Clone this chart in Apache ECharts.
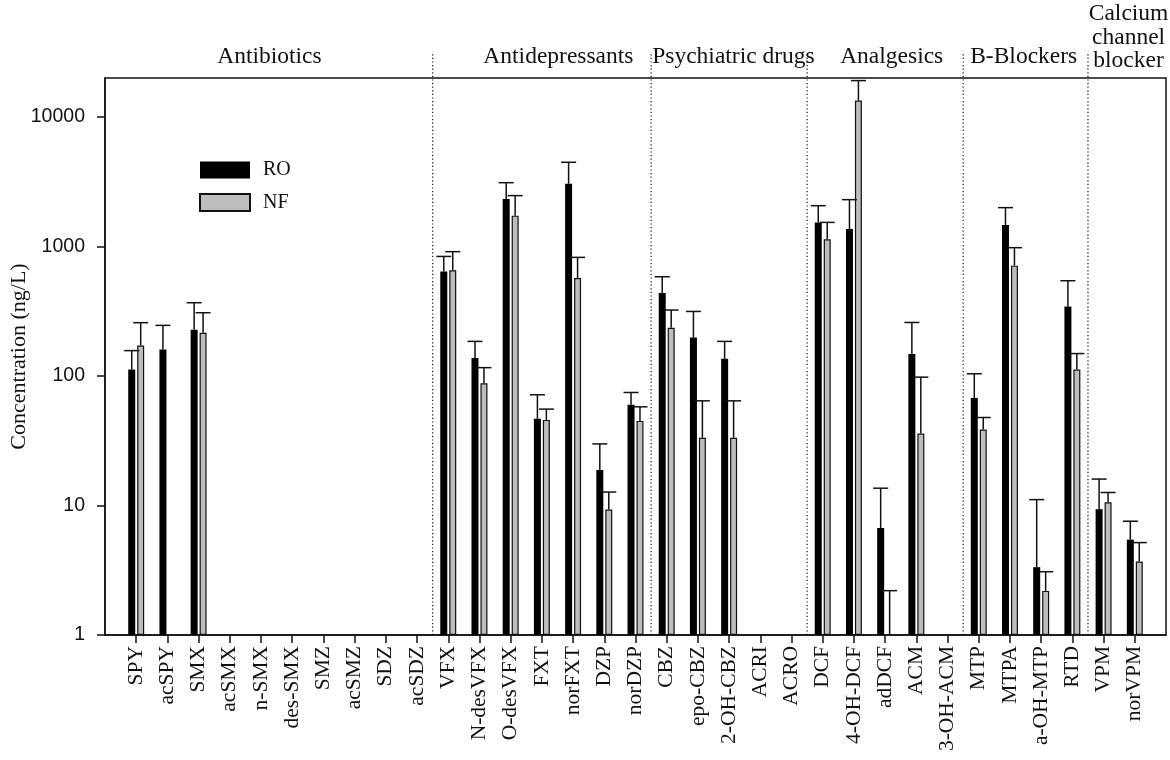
<!DOCTYPE html>
<html>
<head>
<meta charset="utf-8">
<script src="https://cdn.jsdelivr.net/npm/echarts@6/dist/echarts.min.js"></script>
<style>
  html, body { margin: 0; padding: 0; background: #fff; }
  #chart { width: 1170px; height: 760px; }
</style>
</head>
<body>
<div id="chart"></div>
<script>
// Compounds, in plotting order
const categories = ['SPY','acSPY','SMX','acSMX','n-SMX','des-SMX','SMZ','acSMZ','SDZ','acSDZ',
  'VFX','N-desVFX','O-desVFX','FXT','norFXT','DZP','norDZP',
  'CBZ','epo-CBZ','2-OH-CBZ','ACRI','ACRO',
  'DCF','4-OH-DCF','adDCF','ACM','3-OH-ACM',
  'MTP','MTPA','a-OH-MTP','RTD',
  'VPM','norVPM'];

// Mean concentrations (ng/L) and upper error limits
const roMean  = [112,160,228,null,null,null,null,null,null,null,
  642,138,2330,46.7,3050,18.8,60,
  437,198,136,null,null,
  1535,1365,6.7,148,null,
  67.5,1467,3.34,344,
  9.36,5.45];
const roUpper = [157,246,368,null,null,null,null,null,null,null,
  838,185,3110,71.6,4470,29.9,74.6,
  584,315,185,null,null,
  2066,2300,13.6,259,null,
  104,1995,11.1,544,
  16,7.56];
const nfMean  = [172,null,216,null,null,null,null,null,null,null,
  654,88,1730,45.8,571,9.3,45,
  236,33.3,33.3,null,null,
  1135,13390,null,36,null,
  38.6,711,2.19,112,
  10.6,3.69];
const nfUpper = [258,null,308,null,null,null,null,null,null,null,
  912,116,2471,55.5,824,12.7,57.8,
  323,64.3,64.3,null,null,
  1535,19100,2.2,98,null,
  47.8,979,3.08,149,
  12.6,5.17];

// Drug classes: name and index range of their compounds
const groupNames = ['Antibiotics','Antidepressants','Psychiatric drugs','Analgesics','B-Blockers','Calcium\nchannel\nblocker'];
const groupFirst = [0, 10, 17, 22, 27, 31];
const groupLast  = [9, 16, 21, 26, 30, 32];

// Axis tick labels
const yTicks = [1, 10, 100, 1000, 10000];

// ---- layout ----
const Y_MIN = 1, Y_MAX = 20000;
const BAR_W = 7, BAR_GAP = 0.28;
const SERIF = '"Liberation Serif", "Times New Roman", serif';
const SANS = '"Liberation Sans", Arial, sans-serif';
// horizontal anchor of each class title, in category units
const groupLabelAt = [4.27, 13.53, 19.14, 24.21, 28.44, 31.8];

// category axis padded by one empty slot on each side
const axisCats = [' '].concat(categories, ['  ']);
const pad = arr => [null].concat(arr, [null]);

function errData(mean, upper) {
  const out = [];
  upper.forEach((u, i) => { if (u != null) out.push([i + 1, mean[i] == null ? NaN : mean[i], u]); });
  return out;
}

function errRenderer(side) {
  return function (params, api) {
    const i = api.value(0);
    const base = api.value(1);
    const hi = api.value(2);
    const off = side * BAR_W * (1 + BAR_GAP) / 2;
    const top = api.coord([i, hi]);
    const bottom = api.coord([i, isNaN(base) ? Y_MIN : base]);
    const x = top[0] + off;
    const cap = 7.5;
    const style = { stroke: '#111', lineWidth: 1.5, fill: null };
    return {
      type: 'group',
      children: [
        { type: 'line', shape: { x1: x, y1: bottom[1], x2: x, y2: top[1] }, style },
        { type: 'line', shape: { x1: x - cap, y1: top[1], x2: x + cap, y2: top[1] }, style }
      ]
    };
  };
}

const sepData = groupLast.slice(0, groupLast.length - 1).map(l => [l + 1, Y_MIN]);
const titleData = groupNames.map((n, k) => [groupLabelAt[k], Y_MAX, k]);

const chart = echarts.init(document.getElementById('chart'), null, { renderer: 'canvas' });
chart.setOption({
  animation: false,
  backgroundColor: '#fff',
  grid: {
    left: 105, right: 4, top: 78, bottom: 125,
    outerBoundsMode: 'none',
    containLabel: false,
    show: true, borderColor: '#111', borderWidth: 1.5, backgroundColor: 'transparent'
  },
  legend: {
    data: ['RO', 'NF'],
    orient: 'vertical',
    left: 199, top: 160, padding: 0,
    itemWidth: 50, itemHeight: 17, itemGap: 12.5,
    icon: 'rect',
    textStyle: { fontFamily: SERIF, fontSize: 20, color: '#111', padding: [0, 0, 0, 8] },
    selectedMode: false
  },
  xAxis: {
    type: 'category',
    data: axisCats,
    boundaryGap: false,
    axisLine: { show: true, lineStyle: { color: '#111', width: 1.5 } },
    axisTick: {
      show: true, length: 8, lineStyle: { color: '#111', width: 1.5 },
      interval: idx => idx > 0 && idx < axisCats.length - 1
    },
    axisLabel: {
      interval: 0, rotate: 90, margin: 11,
      fontFamily: SERIF, fontSize: 21.5, color: '#111'
    },
    splitLine: { show: false }
  },
  yAxis: {
    type: 'log',
    logBase: 10,
    min: Y_MIN, max: Y_MAX,
    name: 'Concentration (ng/L)',
    nameLocation: 'middle',
    nameGap: 75,
    nameMoveOverlap: false,
    nameTextStyle: { fontFamily: SERIF, fontSize: 22, color: '#111' },
    axisLine: { show: true, lineStyle: { color: '#111', width: 1.5 } },
    axisTick: { show: true, length: 8, lineStyle: { color: '#111', width: 1.5 }, customValues: yTicks },
    axisLabel: {
      customValues: yTicks,
      margin: 20, fontFamily: SANS, fontSize: 19.5, color: '#111',
      formatter: v => String(Math.round(v))
    },
    splitLine: { show: false }
  },
  series: [
    {
      name: 'RO', type: 'bar', data: pad(roMean),
      barWidth: BAR_W, barGap: (BAR_GAP * 100) + '%',
      itemStyle: { color: '#000', borderColor: '#000', borderWidth: 0 },
      silent: true
    },
    {
      name: 'NF', type: 'bar', data: pad(nfMean),
      barWidth: BAR_W,
      itemStyle: { color: '#bdbdbd', borderColor: '#111', borderWidth: 1.2 },
      silent: true
    },
    {
      name: 'RO range', type: 'custom', data: errData(roMean, roUpper),
      renderItem: errRenderer(-1), encode: { x: 0, y: [1, 2] }, z: 3, silent: true
    },
    {
      name: 'NF range', type: 'custom', data: errData(nfMean, nfUpper),
      renderItem: errRenderer(1), encode: { x: 0, y: [1, 2] }, z: 3, silent: true
    },
    {
      // dotted separators between drug classes, running up into the title band
      name: 'separators', type: 'custom', data: sepData, clip: false, silent: true, z: 1,
      renderItem: (params, api) => {
        const a = api.coord([api.value(0), Y_MIN]);
        const b = api.coord([api.value(0) + 1, Y_MIN]);
        const x = (a[0] + b[0]) / 2;
        const top = api.coord([api.value(0), Y_MAX])[1] - 26;
        return {
          type: 'line',
          shape: { x1: x, y1: a[1], x2: x, y2: top },
          style: { stroke: '#111', lineWidth: 1.2, lineDash: [1.2, 2.4] }
        };
      }
    },
    {
      // drug class titles above the plot frame
      name: 'class titles', type: 'custom', data: titleData, clip: false, silent: true,
      renderItem: (params, api) => {
        const x0 = api.coord([1, Y_MAX]);
        const band = api.size([1, 0])[0];
        const x = x0[0] + api.value(0) * band;
        const text = groupNames[api.value(2)];
        const multi = text.indexOf('\n') >= 0;
        return {
          type: 'text',
          style: {
            text: text,
            x: x, y: x0[1] - (multi ? 5 : 9),
            align: 'center', verticalAlign: 'bottom',
            font: '23.5px ' + SERIF, lineHeight: 23.5, fill: '#111'
          }
        };
      }
    }
  ]
});
</script>
</body>
</html>
